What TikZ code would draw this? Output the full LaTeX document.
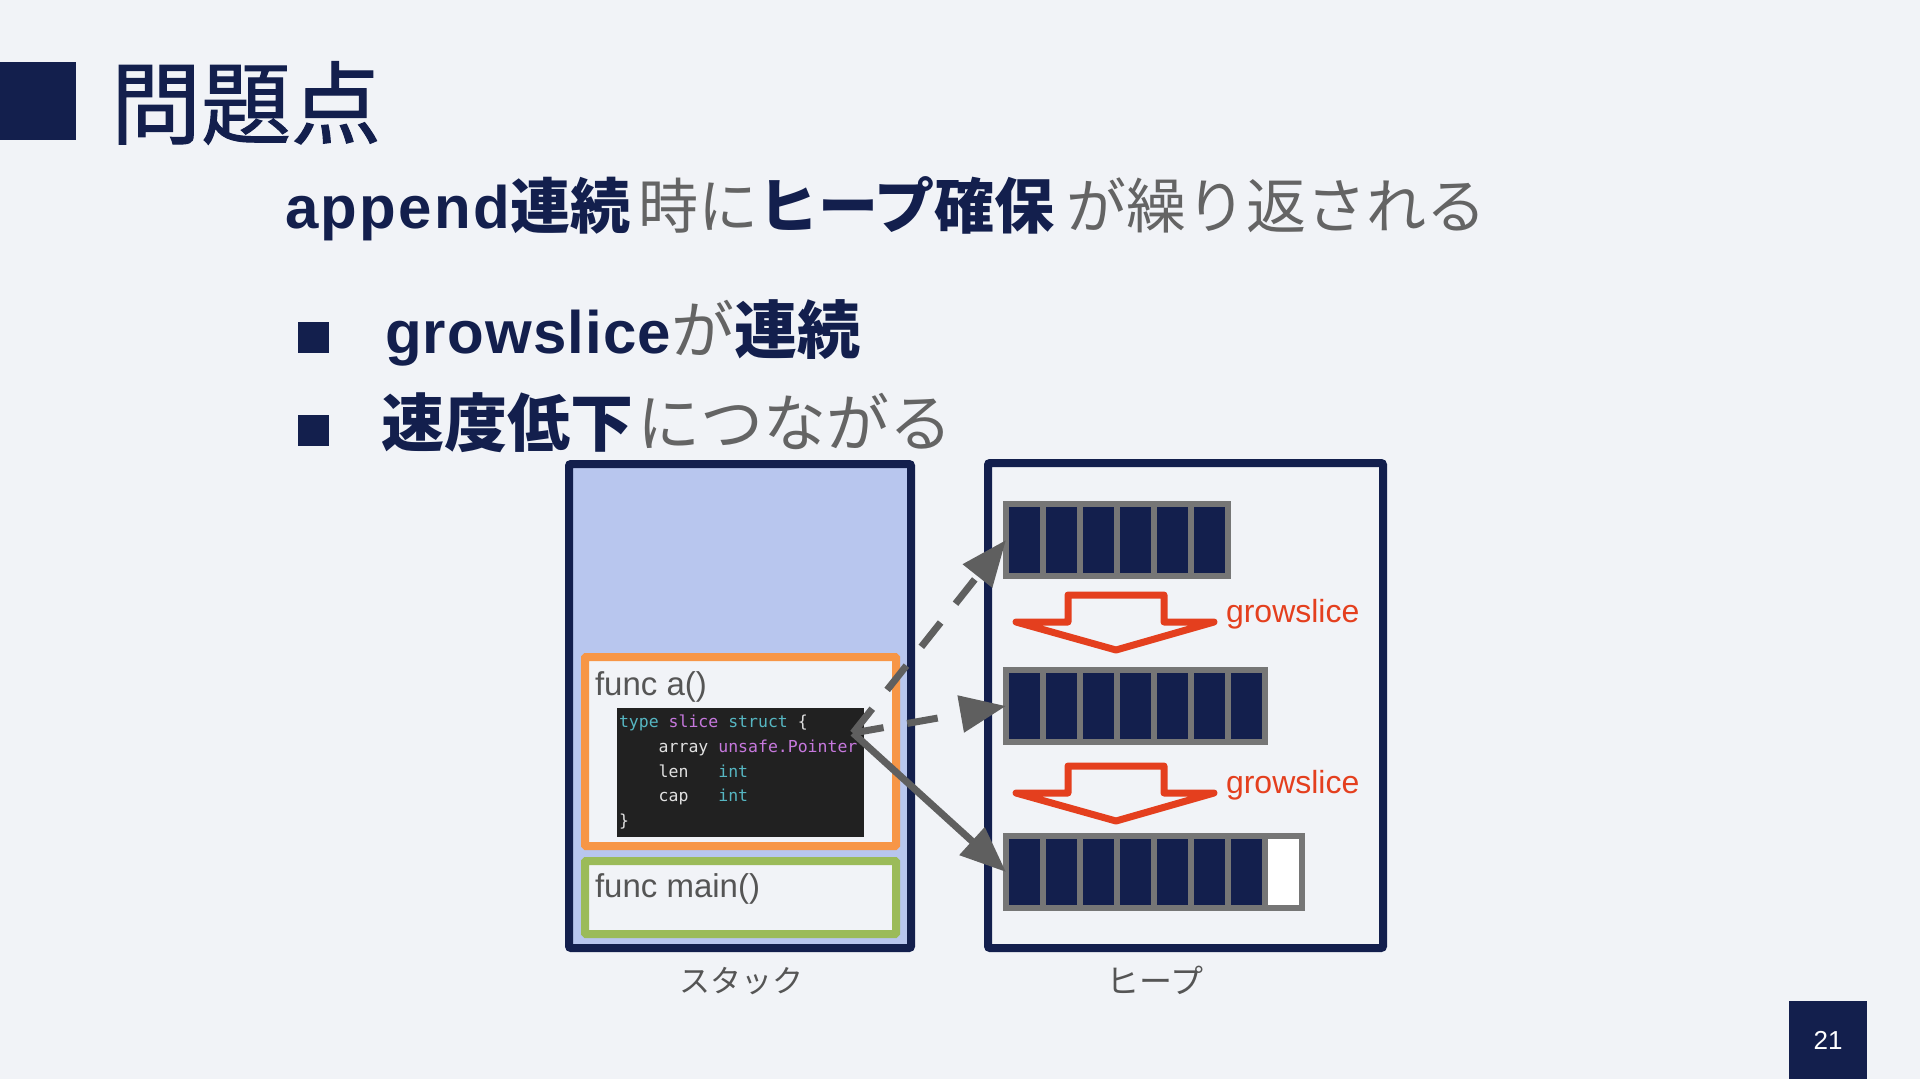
\documentclass[tikz,border=0pt]{standalone}
\usepackage{fontspec}
\setmainfont{Liberation Sans}
\newfontfamily\jp{Noto Sans CJK JP}
\newfontfamily\jpm{Noto Sans CJK JP}[FakeBold=1.2]
\newfontfamily\latA{Liberation Sans}[LetterSpace=4]
\newfontfamily\latB{Liberation Sans}[LetterSpace=2]
\newfontfamily\codefont{DejaVu Sans Mono}
\usetikzlibrary{arrows.meta}
\definecolor{bg}{RGB}{241,243,247}
\definecolor{navy}{RGB}{19,31,77}
\definecolor{txtgray}{RGB}{100,100,100}
\definecolor{stackfill}{RGB}{184,198,238}
\definecolor{orangeb}{RGB}{247,150,70}
\definecolor{greenb}{RGB}{155,187,89}
\definecolor{codebg}{RGB}{33,33,33}
\definecolor{cteal}{RGB}{86,182,194}
\definecolor{cpurple}{RGB}{198,120,221}
\definecolor{cwhite}{RGB}{225,225,225}
\definecolor{agray}{RGB}{95,95,95}
\definecolor{cellgray}{RGB}{118,118,118}
\definecolor{redarr}{RGB}{228,63,30}
\definecolor{functext}{RGB}{85,85,85}
\begin{document}
\begin{tikzpicture}[x=1pt,y=-1pt,
  txt/.style={inner sep=0pt, outer sep=0pt, anchor=base west},
  frame/.style={draw, line width=8pt, inner sep=0pt, outer sep=0pt, rounded corners=2pt},
  cell/.style={draw=cellgray, line width=5.5pt, fill=navy, minimum width=37pt, minimum height=72pt, inner sep=0pt, outer sep=0pt},
  emptycell/.style={cell, fill=white},
  garrow/.style={draw=agray, line width=7pt, -{Triangle[length=46pt,width=36pt]}},
  dasharrow/.style={garrow, dash pattern=on 31pt off 24pt},
  redarrow/.style={draw=redarr, line width=7pt, line join=round},
  codeline/.style={txt, font=\codefont\fontsize{16.5}{20}\selectfont, text=cwhite},
  bulletsq/.style={fill=navy, minimum size=31pt, inner sep=0pt, outer sep=0pt}
]
\useasboundingbox (0,0) rectangle (1920,1079);
\fill[bg] (0,0) rectangle (1920,1079);

% title
\node[fill=navy, minimum width=76pt, minimum height=78pt, inner sep=0pt, anchor=north west] (tsq) at (0,62) {};
\node[txt, text=navy, font=\jpm\fontsize{90}{90}\selectfont] (title) at (111,137) {問題点};

% subtitle
\node[txt] (sub) at (285,228) {{\latA\bfseries\fontsize{60}{60}\selectfont\color{navy}append}{\jp\fontsize{60}{60}\selectfont{\bfseries\color{navy}連続}\hspace{8pt}{\color{txtgray}時に}{\bfseries\color{navy}ヒープ確保}\hspace{12pt}{\color{txtgray}が繰り返される}}};

% bullets
\node[bulletsq] (b1) at (313,337) {};
\node[bulletsq] (b2) at (313,430) {};
\node[txt] (l1) at (385,353) {{\latB\bfseries\fontsize{60}{60}\selectfont\color{navy}growslice}{\jp\fontsize{63}{63}\selectfont{\color{txtgray}が}{\bfseries\color{navy}連続}}};
\node[txt] (l2) at (381,446) {{\jp\fontsize{63}{63}\selectfont{\bfseries\color{navy}速度低下}\hspace{4pt}{\color{txtgray}につながる}}};

% stack
\node[frame, draw=navy, fill=stackfill, minimum width=342pt, minimum height=484pt] (stack) at (740,706) {};
\node[frame, draw=orangeb, fill=bg, minimum width=311pt, minimum height=189pt, rounded corners=1pt] (fa) at (740.5,751.5) {};
\node[frame, draw=greenb, fill=bg, minimum width=311pt, minimum height=73pt, rounded corners=1pt] (fm) at (740.5,897.5) {};
\node[txt, text=functext, font=\fontsize{33}{33}\selectfont] (fatext) at (595,695) {func a()};
\node[txt, text=functext, font=\fontsize{33}{33}\selectfont] (fmtext) at (595,897) {func main()};
\node[fill=codebg, minimum width=247pt, minimum height=129pt, inner sep=0pt, outer sep=0pt] (code) at (740.5,772.5) {};
\node[codeline] (c1) at (619,727) {\textcolor{cteal}{type} \textcolor{cpurple}{slice} \textcolor{cteal}{struct} \{};
\node[codeline] (c2) at (619,752) {\phantom{xxxx}array \textcolor{cpurple}{unsafe.Pointer}};
\node[codeline] (c3) at (619,777) {\phantom{xxxx}len\ \ \ \textcolor{cteal}{int}};
\node[codeline] (c4) at (619,801) {\phantom{xxxx}cap\ \ \ \textcolor{cteal}{int}};
\node[codeline] (c5) at (619,826) {\}};
\coordinate (ptr) at (853,733);

% heap
\node[frame, draw=navy, fill=bg, minimum width=395pt, minimum height=485pt] (heap) at (1185.5,705.5) {};
\foreach \i in {1,...,6} {
  \node[cell] (r1c\i) at ({1006+37*(\i-0.5)},540) {};
}
\foreach \i in {1,...,7} {
  \node[cell] (r2c\i) at ({1006+37*(\i-0.5)},706) {};
}
\foreach \i in {1,...,7} {
  \node[cell] (r3c\i) at ({1006+37*(\i-0.5)},872) {};
}
\node[emptycell] (r3c8) at ({1006+37*7.5},872) {};

% growslice block arrows
\coordinate (g1) at (1116,595);
\coordinate (g2) at (1116,766);
\draw[redarrow] (g1) ++(-48,0) -- ++(96,0) -- ++(0,27) -- ++(50,0) -- ++(-98,28) -- ++(-100,-28) -- ++(52,0) -- cycle;
\draw[redarrow] (g2) ++(-48,0) -- ++(96,0) -- ++(0,27) -- ++(50,0) -- ++(-98,28) -- ++(-100,-28) -- ++(52,0) -- cycle;
\node[txt, text=redarr, font=\fontsize{32}{32}\selectfont] (gs1) at (1226,622) {growslice};
\node[txt, text=redarr, font=\fontsize{32}{32}\selectfont] (gs2) at (1226,793) {growslice};

% pointer arrows
\draw[dasharrow] (ptr) -- (r1c1.west);
\draw[dasharrow] (ptr) -- (r2c1.west);
\draw[garrow] (ptr) -- (r3c1.west);

% labels
\node[txt, text=functext, font=\jp\fontsize{31}{31}\selectfont] (stacklbl) at (679,992) {スタック};
\node[txt, text=functext, font=\jp\fontsize{33}{33}\selectfont] (heaplbl) at (1106,993) {ヒープ};

% page number
\node[fill=navy, minimum width=78pt, minimum height=78pt, inner sep=0pt, anchor=north west] (pgbox) at (1789,1001) {};
\node[text=white, font=\fontsize{26}{26}\selectfont, inner sep=0pt] (pg) at (1828,1040) {21};
\end{tikzpicture}
\end{document}
